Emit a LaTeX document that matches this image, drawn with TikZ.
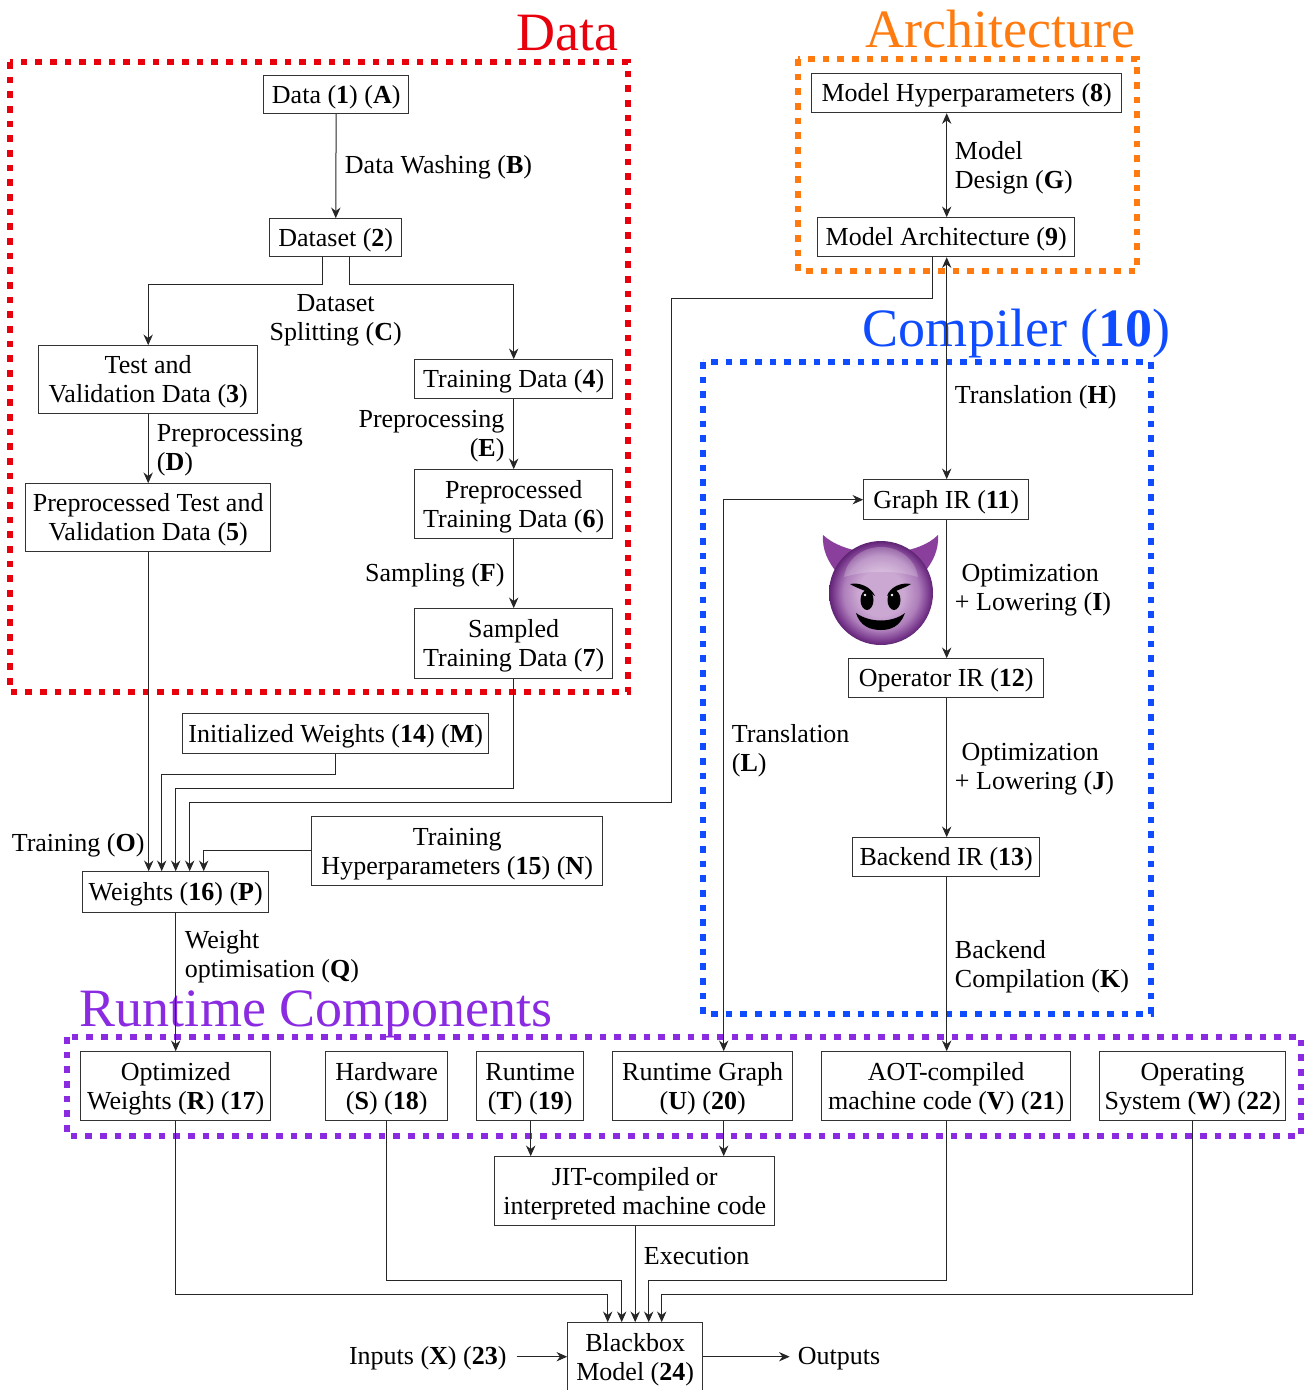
\documentclass[tikz,border=0pt]{standalone}
\usepackage{fontspec}
\setmainfont{Liberation Serif}
\usetikzlibrary{arrows.meta,calc}
\definecolor{cred}{HTML}{E8000D}
\definecolor{corange}{HTML}{FF7B0F}
\definecolor{cblue}{HTML}{0F4BFF}
\definecolor{cpurple}{HTML}{8A2BE2}
\definecolor{hornc}{HTML}{8B3F9C}
\definecolor{emoa}{HTML}{CBA8D2}
\definecolor{emob}{HTML}{AE7FBB}
\definecolor{emoc}{HTML}{7A3A8E}
\definecolor{emod}{HTML}{5E2473}
\pgfdeclareradialshading{emoball}{\pgfpoint{0bp}{0bp}}{color(0bp)=(emoa); color(11bp)=(emoa); color(18bp)=(emob); color(23bp)=(emoc); color(25bp)=(emod); color(50bp)=(emod)}
\newcommand\bx[6]{\node[bxs, minimum width={(#4-#2)*0.75pt}, minimum height={(#5-#3)*0.75pt}] (#1) at ({(#2+#4)/2},{(#3+#5)/2}) {\rule{0pt}{17.3pt}#6};}
\tikzset{
 x=0.75pt,y=-0.75pt,
 bxs/.style={draw=black!80,line width=0.75pt,inner sep=0pt,align=center,font=\normalfont\lbl},
 lab/.style={inner sep=0pt,yshift=-2pt,font=\normalfont\lbl},
 ttl/.style={inner sep=0pt,anchor=base west,font=\normalfont\fontsize{40.5}{43}\selectfont},
 frm/.style={line width=5pt,dash pattern=on 5pt off 6pt},
 ar/.style={draw=black!85,line width=0.75pt,-{Stealth[length=8pt,width=7pt,inset=2.6pt]}},
 arb/.style={draw=black!85,line width=0.75pt,{Stealth[length=8pt,width=7pt,inset=2.6pt]}-{Stealth[length=8pt,width=7pt,inset=2.6pt]}},
}
\newcommand\lbl{\fontsize{19.5}{21.75}\selectfont}
\begin{document}
\begin{tikzpicture}
\useasboundingbox (0,0) rectangle (1307,1390);
% frames
\draw[frm,cred] (10,62) rectangle (628,692);
\draw[frm,corange] (798,59) rectangle (1137,271);
\draw[frm,cblue] (703,362) rectangle (1151,1014);
\draw[frm,cpurple] (67,1037) rectangle (1301,1136);
\begin{scope}[shift={(-0.3,-0.3)}]
\node[ttl,text=cred] (tdata) at (517,51) {Data};
\node[ttl,text=corange] (tarch) at (866,48) {Architecture};
\node[ttl,text=cblue] (tcomp) at (863,347) {Compiler (\textbf{10})};
\node[ttl,text=cpurple] (trun) at (80,1027) {Runtime Components};
% boxes
\bx{n1}{264}{76}{409}{114}{Data (\textbf{1}) (\textbf{A})}
\bx{n2}{270}{219}{402}{257}{Dataset (\textbf{2})}
\bx{n3}{39}{346}{258}{414}{Test and\\Validation Data (\textbf{3})}
\bx{n4}{415}{360}{613}{399}{Training Data (\textbf{4})}
\bx{n5}{26}{484}{271}{552}{Preprocessed Test and\\Validation Data (\textbf{5})}
\bx{n6}{415}{470}{613}{539}{Preprocessed\\Training Data (\textbf{6})}
\bx{n7}{415}{609}{613}{679}{Sampled\\Training Data (\textbf{7})}
\bx{n14}{183}{714}{489}{754}{Initialized Weights (\textbf{14}) (\textbf{M})}
\bx{n15}{312}{817}{603}{886}{Training\\Hyperparameters (\textbf{15}) (\textbf{N})}
\bx{n16}{83}{872}{269}{913}{Weights (\textbf{16}) (\textbf{P})}
\bx{n8}{812}{74}{1122}{113}{Model Hyperparameters (\textbf{8})}
\bx{n9}{818}{218}{1075}{257}{Model Architecture (\textbf{9})}
\bx{n11}{864}{480}{1029}{520}{Graph IR (\textbf{11})}
\bx{n12}{849}{659}{1044}{698}{Operator IR (\textbf{12})}
\bx{n13}{853}{838}{1040}{877}{Backend IR (\textbf{13})}
\bx{n17}{81}{1052}{271}{1121}{Optimized\\Weights (\textbf{R}) (\textbf{17})}
\bx{n18}{326}{1052}{448}{1121}{Hardware\\(\textbf{S}) (\textbf{18})}
\bx{n19}{477}{1052}{584}{1121}{Runtime\\(\textbf{T}) (\textbf{19})}
\bx{n20}{613}{1052}{793}{1121}{Runtime Graph\\(\textbf{U}) (\textbf{20})}
\bx{n21}{822}{1052}{1071}{1121}{AOT-compiled\\machine code (\textbf{V}) (\textbf{21})}
\bx{n22}{1100}{1052}{1286}{1121}{Operating\\System (\textbf{W}) (\textbf{22})}
\bx{jit}{495}{1157}{775}{1226}{JIT-compiled or\\interpreted machine code}
\bx{n24}{568}{1323}{703}{1392}{Blackbox\\Model (\textbf{24})}
% labels
\node[lab,anchor=west] (lb) at (345,165) {Data Washing (\textbf{B})};
\node[lab,align=center] (lc) at (336,318) {Dataset\\Splitting (\textbf{C})};
\node[lab,anchor=west,align=left] (ld) at (157,448) {Preprocessing\\(\textbf{D})};
\node[lab,anchor=east,align=right] (le) at (505,434) {Preprocessing\\(\textbf{E})};
\node[lab,anchor=east] (lf) at (505,573) {Sampling (\textbf{F})};
\node[lab,anchor=west,align=left] (lg) at (955,165) {Model\\Design (\textbf{G})};
\node[lab,anchor=west] (lh) at (955,395) {Translation (\textbf{H})};
\node[lab,anchor=west,align=left] (li) at (955,588) {\hspace*{5pt}Optimization\\+ Lowering (\textbf{I})};
\node[lab,anchor=west,align=left] (lj) at (955,767) {\hspace*{5pt}Optimization\\+ Lowering (\textbf{J})};
\node[lab,anchor=west,align=left] (lk) at (955,964) {Backend\\Compilation (\textbf{K})};
\node[lab,anchor=west,align=left] (ll) at (732,748) {Translation\\(\textbf{L})};
\node[lab,anchor=east] (lo) at (145,843) {Training (\textbf{O})};
\node[lab,anchor=west,align=left] (lq) at (185,954) {Weight\\optimisation (\textbf{Q})};
\node[lab,anchor=west] (lex) at (644,1254) {Execution};
\node[lab,anchor=east] (inp) at (507,1356) {Inputs (\textbf{X}) (\textbf{23})};
\node[lab,anchor=west] (out) at (798,1356) {Outputs};
% connectors
\draw[ar] (n1) -- (n2);
\draw[ar] (323,0 |- n2.south) -- (323,285) -| (n3.north);
\draw[ar] (350,0 |- n2.south) -- (350,285) -| (n4.north);
\draw[ar] (n3) -- (n5);
\draw[ar] (514,0 |- n4.south) -- (514,0 |- n6.north);
\draw[ar] (514,0 |- n6.south) -- (514,0 |- n7.north);
\draw[ar] (149,0 |- n5.south) -- (149,0 |- n16.north);
\draw[ar] (n14.south) -- (336,775) -| (162,0 |- n16.north);
\draw[ar] (514,0 |- n7.south) -- (514,789) -| (176,0 |- n16.north);
\draw[ar] (933,0 |- n9.south) -- (933,299) -- (672,299) -- (672,803) -| (190,0 |- n16.north);
\draw[ar] (n15.west |- 0,851) -| (204,0 |- n16.north);
\draw[ar] (176,0 |- n16.south) -- (176,0 |- n17.north);
\draw[arb] (947,0 |- n8.south) -- (947,0 |- n9.north);
\draw[arb] (947,0 |- n9.south) -- (947,0 |- n11.north);
\draw[ar] (947,0 |- n11.south) -- (947,0 |- n12.north);
\draw[ar] (947,0 |- n12.south) -- (947,0 |- n13.north);
\draw[ar] (947,0 |- n13.south) -- (947,0 |- n21.north);
\draw[arb] (n11.west) -| (724,0 |- n20.north);
\draw[ar] (531,0 |- n19.south) -- (531,0 |- jit.north);
\draw[ar] (724,0 |- n20.south) -- (724,0 |- jit.north);
\draw[ar] (176,0 |- n17.south) |- (608,1295) -- (608,0 |- n24.north);
\draw[ar] (n18.south) |- (622,1281) -- (622,0 |- n24.north);
\draw[ar] (635.5,0 |- jit.south) -- (635.5,0 |- n24.north);
\draw[ar] (947,0 |- n21.south) |- (649,1281) -- (649,0 |- n24.north);
\draw[ar] (n22.south) |- (662,1295) -- (662,0 |- n24.north);
\draw[ar] (517,1357) -- (n24.west |- 0,1357);
\draw[ar] (n24.east |- 0,1357) -- (790,1357);
\end{scope}
% emoji
\fill[hornc] (823,535) .. controls (822,550) and (828,562) .. (838,574) -- (862,552) .. controls (848,549) and (834,545) .. (823,535) -- cycle;
\fill[hornc] (938,535) .. controls (939,550) and (933,562) .. (923,574) -- (900,552) .. controls (914,549) and (928,545) .. (938,535) -- cycle;
\shade[shading=emoball] (881,593) circle (52);
\fill[white,opacity=.2] (844,577) .. controls (847,557) and (865,547) .. (881,547) .. controls (897,547) and (915,557) .. (918,577) .. controls (895,570) and (867,570) .. (844,577) -- cycle;
\fill[black] (867,600) ellipse (6.5 and 10);
\fill[black] (894,600) ellipse (6.5 and 10);
\fill[white] (865,595) circle (1.3);
\fill[white] (892,595) circle (1.3);
\fill[black] (850,584) .. controls (860,582) and (871,587) .. (875,596) .. controls (868,591) and (858,589) .. (850,584) -- cycle;
\fill[black] (911,584) .. controls (901,582) and (890,587) .. (887,596) .. controls (893,591) and (903,589) .. (911,584) -- cycle;
\fill[black] (856,613) .. controls (870,623) and (892,623) .. (905,613) .. controls (900,627) and (890,630) .. (881,630) .. controls (870,630) and (860,626) .. (856,613) -- cycle;
\end{tikzpicture}
\end{document}
